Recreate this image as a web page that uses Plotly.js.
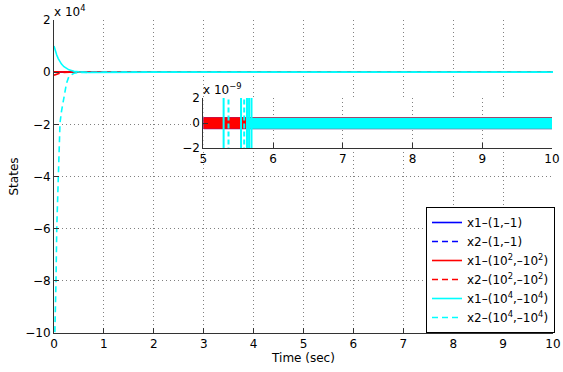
<!DOCTYPE html>
<html>
<head>
<meta charset="utf-8">
<script src="https://cdn.plot.ly/plotly-3.0.1.min.js"></script>
<style>html,body{margin:0;padding:0;background:#fff;}#chart{width:563px;height:372px;}</style>
</head>
<body>
<div id="chart"></div>
<script>
// ---------- data (main plot) ----------
const tMain = [0, 0.02, 0.04, 0.055, 0.085, 0.12, 0.15, 0.2, 0.25, 0.3, 0.4, 0.5, 0.7, 1, 2, 4, 6, 8, 10];
// initial condition (1,-1)
const x1_a = [1, 0.86, 0.74, 0.66, 0.52, 0.4, 0.31, 0.21, 0.14, 0.09, 0.035, 0.01, -0.01, -0.003, 0, 0, 0, 0, 0];
const x2_a = [-11.5, -10, -8, -6, -4, -1.95, -1.5, -0.95, -0.43, -0.16, -0.04, -0.01, 0, 0, 0, 0, 0, 0, 0];
// initial condition (1e2,-1e2)
const x1_b = [100, 86, 74, 66, 52, 40, 31, 21, 14, 9, 3.5, 1, -1, -0.3, 0, 0, 0, 0, 0];
const x2_b = [-1150, -1000, -800, -600, -400, -195, -150, -95, -43, -16, -4, -1, 0, 0, 0, 0, 0, 0, 0];
// initial condition (1e4,-1e4)
const x1_c = [10000, 8600, 7400, 6600, 5200, 4000, 3100, 2100, 1400, 900, 350, 100, -100, -30, 0, 0, 0, 0, 0];
const x2_c = [-115000, -100000, -80000, -60000, -40000, -19500, -15000, -9500, -4300, -1600, -400, -100, 0, 0, 0, 0, 0, 0, 0];

const seriesNames = ['x1\u2013(1,\u20131)', 'x2\u2013(1,\u20131)',
  'x1\u2013(10<sup>2</sup>,\u201310<sup>2</sup>)', 'x2\u2013(10<sup>2</sup>,\u201310<sup>2</sup>)',
  'x1\u2013(10<sup>4</sup>,\u201310<sup>4</sup>)', 'x2\u2013(10<sup>4</sup>,\u201310<sup>4</sup>)'];

// main axis ticks
const xTicks = [0, 1, 2, 3, 4, 5, 6, 7, 8, 9, 10];
const yTickVals = [-100000, -80000, -60000, -40000, -20000, 0, 20000];
const yTickText = ['\u221210', '\u22128', '\u22126', '\u22124', '\u22122', '0', '2'];

// ---------- data (inset, t = 5..10, scale 1e-9) ----------
const bandT = [5, 10];
const blueBandUpper = [0.44e-9, 0.44e-9];
const blueBandLower = [-0.46e-9, -0.46e-9];
const redBandUpper = [0.44e-9, 0.44e-9];
const redBandLower = [-0.46e-9, -0.46e-9];
const cyanBandT = [5.62, 10];
const cyanBandUpper = [0.40e-9, 0.40e-9];
const cyanBandLower = [-0.46e-9, -0.46e-9];
const cyanSpikeSolidT = [5.29, 5.54, 5.625, 5.655, 5.69];
const cyanSpikeDashedT = [5.36, 5.585];
const spikeRange = [-3e-9, 3e-9];
const insetXTicks = [5, 6, 7, 8, 9, 10];
const insetYTickVals = [-2e-9, 0, 2e-9];
const insetYTickText = ['\u22122', '0', '2'];

const BLUE = '#0000ff', RED = '#ff0000', CYAN = '#00ffff';
const DASH = '6px,4px';
const FONT = 'DejaVu Sans, sans-serif';

function line(y, name, color, dash) {
  return {x: tMain, y: y, name: name, type: 'scatter', mode: 'lines',
    line: {color: color, width: 1.6, dash: dash}, xaxis: 'x', yaxis: 'y'};
}
function band(t, up, lo, color) {
  return {x: [t[0], t[1], t[1], t[0], t[0]], y: [up[0], up[1], lo[1], lo[0], up[0]],
    type: 'scatter', mode: 'lines', fill: 'toself', fillcolor: color,
    line: {color: color, width: 0.5}, xaxis: 'x2', yaxis: 'y2', showlegend: false, hoverinfo: 'skip'};
}
function spikes(ts, color, dash, width) {
  const xs = [], ys = [];
  ts.forEach(t => { xs.push(t, t, null); ys.push(spikeRange[0], spikeRange[1], null); });
  return {x: xs, y: ys, type: 'scatter', mode: 'lines', line: {color: color, width: width, dash: dash},
    xaxis: 'x2', yaxis: 'y2', showlegend: false, hoverinfo: 'skip'};
}

const data = [
  line(x1_a, seriesNames[0], BLUE, 'solid'),
  line(x2_a, seriesNames[1], BLUE, DASH),
  line(x1_b, seriesNames[2], RED, 'solid'),
  line(x2_b, seriesNames[3], RED, DASH),
  line(x1_c, seriesNames[4], CYAN, 'solid'),
  line(x2_c, seriesNames[5], CYAN, DASH),
  band(bandT, blueBandUpper, blueBandLower, BLUE),
  band(bandT, redBandUpper, redBandLower, RED),
  band(cyanBandT, cyanBandUpper, cyanBandLower, CYAN),
  spikes(cyanSpikeSolidT, CYAN, 'solid', 2),
  spikes(cyanSpikeDashedT, CYAN, '5px,3px', 2)
];

const tickFont = {family: FONT, size: 12, color: '#000'};
const common = {showline: true, linecolor: '#333', linewidth: 1, ticks: 'inside', ticklen: 5,
  tickcolor: '#333', tickwidth: 1, showgrid: true, gridcolor: '#808080', gridwidth: 1,
  griddash: '1px,3px', zeroline: false, mirror: false, tickfont: tickFont, automargin: false};

const layout = {
  width: 563, height: 372,
  margin: {l: 54, r: 8, t: 20, b: 39},
  paper_bgcolor: '#fff', plot_bgcolor: '#fff',
  font: {family: FONT, size: 12, color: '#000'},
  showlegend: true,
  legend: {x: 1.004, xanchor: 'right', y: 0, yanchor: 'bottom', bgcolor: '#fff',
    bordercolor: '#000', borderwidth: 1, font: {family: FONT, size: 12, color: '#000'},
    tracegroupgap: 0},
  xaxis: Object.assign({}, common, {domain: [0, 1], range: [0, 10], tickvals: xTicks,
    title: {text: 'Time (sec)', font: {family: FONT, size: 12}, standoff: 3}, anchor: 'y'}),
  yaxis: Object.assign({}, common, {domain: [0, 1], range: [-100000, 20000], tickvals: yTickVals,
    ticktext: yTickText, title: {text: 'States', font: {family: FONT, size: 12}, standoff: 4}, anchor: 'x'}),
  xaxis2: Object.assign({}, common, {domain: [0.2994, 0.998], range: [5, 10], tickvals: insetXTicks, anchor: 'y2'}),
  yaxis2: Object.assign({}, common, {domain: [0.591, 0.7508], range: [-2e-9, 2e-9], tickvals: insetYTickVals,
    ticktext: insetYTickText, anchor: 'x2'}),
  annotations: [
    {xref: 'paper', yref: 'paper', x: 0, y: 1, xanchor: 'left', yanchor: 'bottom', yshift: -1, xshift: -2,
      text: 'x 10<sup>4</sup>', showarrow: false, font: {family: FONT, size: 12, color: '#000'}},
    {xref: 'x2 domain', yref: 'y2 domain', x: 0, y: 1, xanchor: 'left', yanchor: 'bottom', yshift: -1, xshift: -2,
      text: 'x 10<sup>\u22129</sup>', showarrow: false, font: {family: FONT, size: 12, color: '#000'}}
  ]
};

Plotly.newPlot('chart', data, layout, {staticPlot: true, displayModeBar: false});
</script>
</body>
</html>
